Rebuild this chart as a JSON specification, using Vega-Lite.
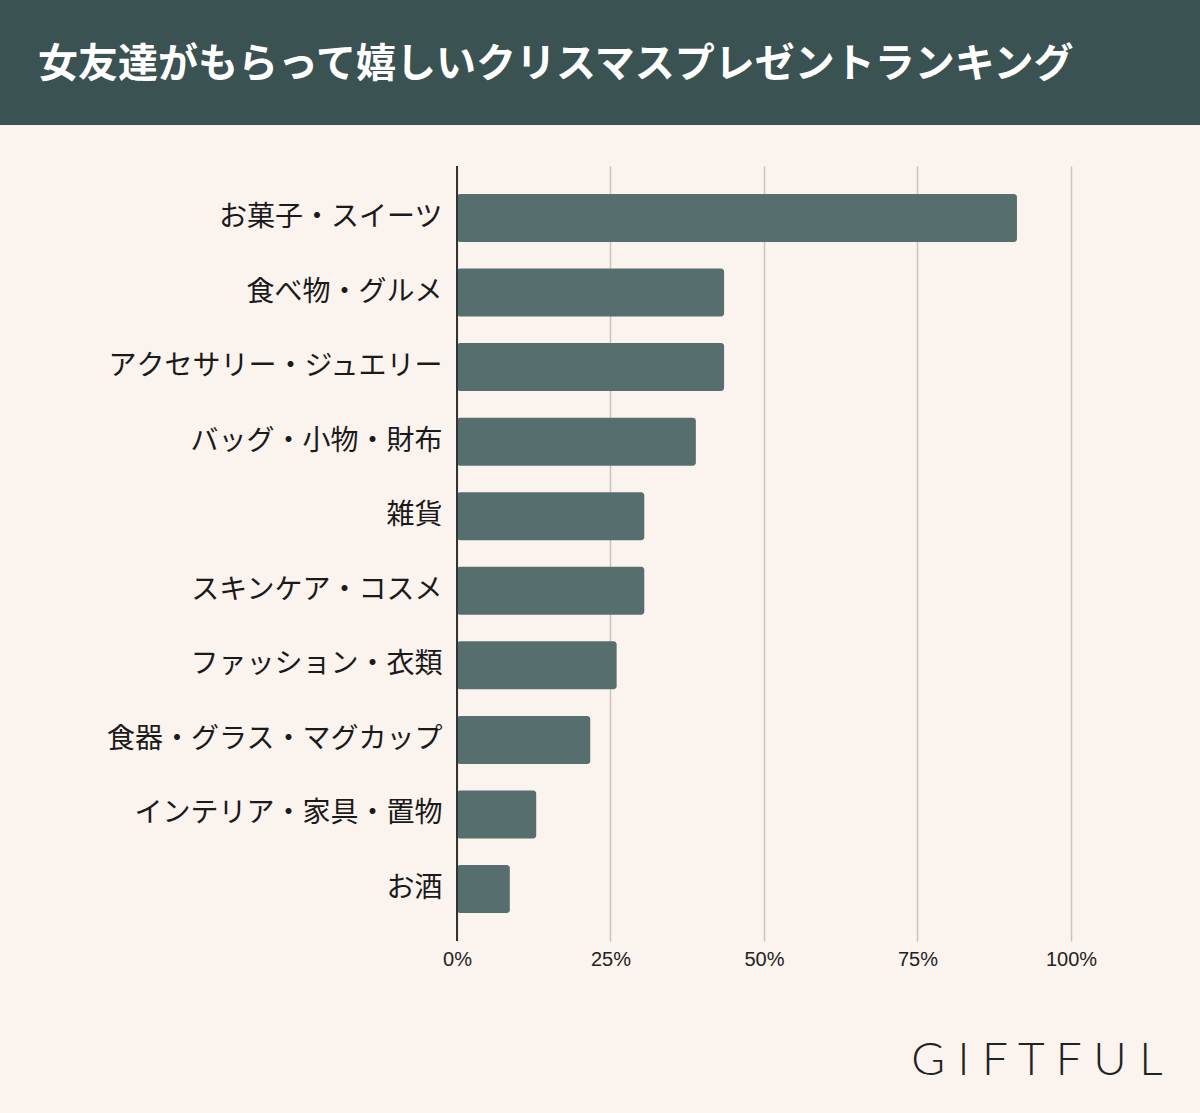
{
  "$schema": "https://vega.github.io/schema/vega-lite/v6.json",
  "background": "#faf3ee",
  "padding": {"left": 0, "right": 0, "top": 0, "bottom": 30},
  "spacing": 40,
  "vconcat": [
    {
      "width": 1200,
      "height": 125,
      "view": {"fill": "#3a5251", "stroke": null},
      "title": {
        "text": "女友達がもらって嬉しいクリスマスプレゼントランキング",
        "anchor": "start",
        "frame": "group",
        "orient": "top",
        "offset": -62,
        "dx": 38,
        "dy": 43,
        "baseline": "middle",
        "font": "Noto Sans CJK JP",
        "fontSize": 40,
        "fontWeight": "bold",
        "color": "#ffffff"
      },
      "data": {"values": []},
      "mark": "point",
      "encoding": {}
    },
    {
      "width": 1200,
      "height": 775,
      "view": {"stroke": null},
      "layer": [
        {
          "data": {
            "values": [
              {"cat": "お菓子・スイーツ", "v": 91.2},
              {"cat": "食べ物・グルメ", "v": 43.5},
              {"cat": "アクセサリー・ジュエリー", "v": 43.5},
              {"cat": "バッグ・小物・財布", "v": 38.9},
              {"cat": "雑貨", "v": 30.5},
              {"cat": "スキンケア・コスメ", "v": 30.5},
              {"cat": "ファッション・衣類", "v": 26.0},
              {"cat": "食器・グラス・マグカップ", "v": 21.7},
              {"cat": "インテリア・家具・置物", "v": 12.9},
              {"cat": "お酒", "v": 8.6}
            ]
          },
          "mark": {"type": "bar", "color": "#566f6e", "cornerRadiusEnd": 3},
          "encoding": {
            "y": {
              "field": "cat",
              "type": "nominal",
              "sort": null,
              "scale": {"paddingInner": 0.356, "paddingOuter": 0.375},
              "axis": {
                "offset": -457,
                "domain": false,
                "ticks": false,
                "grid": false,
                "labelPadding": 15,
                "labelFont": "Noto Sans CJK JP",
                "labelFontSize": 28,
                "labelColor": "#1a1a1a",
                "labelLimit": 600,
                "title": null
              }
            },
            "x": {
              "field": "v",
              "type": "quantitative",
              "scale": {"domain": [-74.43, 121.01], "nice": false, "zero": false},
              "axis": {
                "values": [0, 25, 50, 75, 100],
                "labelExpr": "datum.value + '%'",
                "grid": true,
                "gridColor": "#cbc2c0",
                "gridWidth": 1.5,
                "domain": false,
                "ticks": false,
                "labelPadding": 8,
                "labelFont": "Liberation Sans",
                "labelFontSize": 20,
                "labelColor": "#222222",
                "labelFlush": false,
                "title": "G I F T F U L",
                "titleX": 1162,
                "titleY": 133,
                "titleAlign": "right",
                "titleBaseline": "alphabetic",
                "titleFont": "Lato",
                "titleFontWeight": 300,
                "titleFontSize": 46,
                "titleColor": "#222222"
              }
            },
            "x2": {"datum": 0}
          }
        },
        {
          "data": {"values": [{"z": 0}]},
          "mark": {"type": "rule", "color": "#333333", "strokeWidth": 2},
          "encoding": {"x": {"field": "z", "type": "quantitative"}}
        }
      ]
    }
  ]
}
